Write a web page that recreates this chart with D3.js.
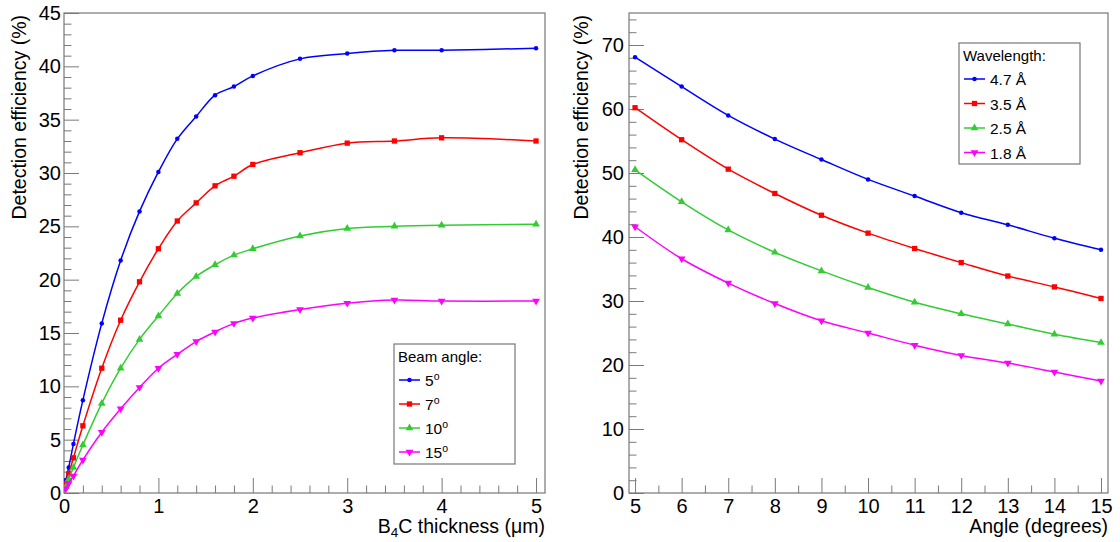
<!DOCTYPE html>
<html>
<head>
<meta charset="utf-8">
<script src="https://cdn.jsdelivr.net/npm/d3@7"></script>
<style>
  body { margin: 0; background: #fff; }
  svg { display: block; font-family: "Liberation Sans", Arial, Helvetica, sans-serif; }
  .tick text { font-size: 20px; fill: #000; }
  .tick line { stroke: #7a7a7a; }
</style>
</head>
<body>
<svg id="chart" width="1120" height="542"></svg>
<script>
// left panel: efficiency vs B4C thickness for several beam angles
const thickness = [0.02, 0.05, 0.1, 0.2, 0.4, 0.6, 0.8, 1.0, 1.2, 1.4, 1.6, 1.8, 2.0, 2.5, 3, 3.5, 4, 5]
const eff5deg  = [1.2, 2.4, 4.6, 8.7, 15.9, 21.8, 26.4, 30.1, 33.2, 35.3, 37.3, 38.1, 39.1, 40.7, 41.2, 41.5, 41.5, 41.7]
const eff7deg  = [0.9, 1.8, 3.3, 6.3, 11.7, 16.2, 19.8, 22.9, 25.5, 27.2, 28.8, 29.7, 30.8, 31.9, 32.8, 33.0, 33.3, 33.0]
const eff10deg = [0.6, 1.3, 2.4, 4.5, 8.4, 11.7, 14.4, 16.6, 18.7, 20.3, 21.4, 22.3, 22.9, 24.1, 24.8, 25.0, 25.1, 25.2]
const eff15deg = [0.4, 0.9, 1.6, 3.1, 5.7, 7.9, 9.9, 11.7, 13.0, 14.2, 15.1, 15.9, 16.4, 17.2, 17.8, 18.1, 18.0, 18.0]
const angleLabels = ["5", "7", "10", "15"]

// right panel: efficiency vs angle for several wavelengths
const angles = [5, 6, 7, 8, 9, 10, 11, 12, 13, 14, 15]
const eff47 = [68.1, 63.5, 59.0, 55.3, 52.1, 49.0, 46.4, 43.8, 41.9, 39.8, 38.0]
const eff35 = [60.2, 55.2, 50.6, 46.8, 43.4, 40.6, 38.2, 36.0, 33.9, 32.2, 30.4]
const eff25 = [50.5, 45.5, 41.1, 37.6, 34.7, 32.1, 29.8, 28.0, 26.4, 24.8, 23.5]
const eff18 = [41.6, 36.6, 32.8, 29.6, 26.9, 25.0, 23.1, 21.5, 20.3, 18.9, 17.5]
const wavelengthLabels = ["4.7 Å", "3.5 Å", "2.5 Å", "1.8 Å"]

// tick labels
const leftXTicks = [0, 1, 2, 3, 4, 5]
const leftYTicks = [0, 5, 10, 15, 20, 25, 30, 35, 40, 45]
const rightXTicks = [5, 6, 7, 8, 9, 10, 11, 12, 13, 14, 15]
const rightYTicks = [0, 10, 20, 30, 40, 50, 60, 70]

const colors = ["#0000ff", "#ff0000", "#33cc33", "#ff00ff"]
const symbols = [d3.symbolCircle, d3.symbolSquare, d3.symbolTriangle, d3.symbolTriangle]
const symbolSizes = [16, 28, 26, 26]
const frameColor = "#777"
const titleSize = 19.5

const svg = d3.select("#chart")

const drawPanel = (p) => {
    const x = d3.scaleLinear().domain(p.xDomain).range([p.left, p.right])
    const y = d3.scaleLinear().domain(p.yDomain).range([p.bottom, p.top])
    const g = svg.append("g")

    const clipId = "clip-" + p.id
    g.append("clipPath").attr("id", clipId)
        .append("rect")
        .attr("x", p.left).attr("y", p.top)
        .attr("width", p.right - p.left).attr("height", p.bottom - p.top)

    // minor ticks
    g.append("g")
        .attr("transform", `translate(0,${p.bottom})`)
        .call(d3.axisBottom(x).tickValues(p.xMinor).tickSize(-7.5).tickFormat(""))
        .call(a => a.select(".domain").remove())
    g.append("g")
        .attr("transform", `translate(${p.left},0)`)
        .call(d3.axisLeft(y).tickValues(p.yMinor).tickSize(-7.5).tickFormat(""))
        .call(a => a.select(".domain").remove())

    // major ticks + labels
    g.append("g")
        .attr("transform", `translate(0,${p.bottom})`)
        .call(d3.axisBottom(x).tickValues(p.xTicks).tickSize(-15).tickPadding(6).tickFormat(d3.format("d")))
        .call(a => a.select(".domain").remove())
    g.append("g")
        .attr("transform", `translate(${p.left},0)`)
        .call(d3.axisLeft(y).tickValues(p.yTicks).tickSize(-15).tickPadding(p.yPad).tickFormat(d3.format("d")))
        .call(a => a.select(".domain").remove())

    g.selectAll(".tick line").attr("stroke", frameColor)

    // frame
    g.append("rect")
        .attr("x", p.left).attr("y", p.top)
        .attr("width", p.right - p.left).attr("height", p.bottom - p.top)
        .attr("fill", "none").attr("stroke", frameColor).attr("stroke-width", 1.2)

    // axis titles
    const xt = g.append("text")
        .attr("x", p.right).attr("y", 533)
        .attr("text-anchor", "end")
        .attr("font-size", titleSize)
    p.xTitle(xt)

    g.append("text")
        .attr("transform", `translate(${p.yTitleX},${p.top + 2}) rotate(-90)`)
        .attr("text-anchor", "end")
        .attr("font-size", titleSize)
        .text("Detection efficiency (%)")

    // curves and markers
    const line = d3.line()
        .x(d => x(d[0]))
        .y(d => y(d[1]))
        .curve(d3.curveCatmullRom.alpha(0.5))

    const plot = g.append("g").attr("clip-path", `url(#${clipId})`)
    p.series.forEach((vals, i) => {
        const pts = p.xs.map((xv, j) => [xv, vals[j]])
        plot.append("path")
            .datum(pts)
            .attr("fill", "none")
            .attr("stroke", colors[i])
            .attr("stroke-width", 1.5)
            .attr("d", line)
        plot.selectAll(null)
            .data(pts)
            .join("path")
            .attr("transform", d => `translate(${x(d[0])},${y(d[1])})` + (i === 3 ? " rotate(180)" : ""))
            .attr("d", d3.symbol().type(symbols[i]).size(symbolSizes[i]))
            .attr("fill", colors[i])
    })

    // legend
    const L = p.legend
    const lg = g.append("g")
    lg.append("rect")
        .attr("x", L.x).attr("y", L.y)
        .attr("width", L.w).attr("height", L.h)
        .attr("fill", "#fff").attr("stroke", frameColor).attr("stroke-width", 1.2)
    lg.append("text")
        .attr("x", L.x + 4).attr("y", L.y + 17.5)
        .attr("font-size", 15)
        .text(L.title)
    L.labels.forEach((lab, i) => {
        const cy = L.y + L.firstRow + i * L.rowStep
        lg.append("line")
            .attr("x1", L.x + 5).attr("x2", L.x + 26)
            .attr("y1", cy).attr("y2", cy)
            .attr("stroke", colors[i]).attr("stroke-width", 1.5)
        lg.append("path")
            .attr("transform", `translate(${L.x + 15.5},${cy})` + (i === 3 ? " rotate(180)" : ""))
            .attr("d", d3.symbol().type(symbols[i]).size(symbolSizes[i]))
            .attr("fill", colors[i])
        const t = lg.append("text")
            .attr("x", L.x + 31).attr("y", cy + 6)
            .attr("font-size", 15.5)
        L.writeLabel(t, lab)
    })
}

drawPanel({
    id: "left",
    left: 64, right: 545, top: 13, bottom: 493,
    xDomain: [0, 5.095], yDomain: [0, 45],
    xTicks: leftXTicks, yTicks: leftYTicks,
    xMinor: d3.range(0, 5.1, 0.2).filter(v => Math.abs(v - Math.round(v)) > 0.01),
    yMinor: d3.range(0, 46, 1).filter(v => v % 5 !== 0),
    yPad: 3,
    yTitleX: 26,
    xs: thickness,
    series: [eff5deg, eff7deg, eff10deg, eff15deg],
    xTitle: t => {
        t.append("tspan").text("B")
        t.append("tspan").attr("font-size", 13.5).attr("dy", 4).text("4")
        t.append("tspan").attr("dy", -4).text("C thickness (μm)")
    },
    legend: {
        x: 394, y: 344, w: 121, h: 120,
        title: "Beam angle:",
        firstRow: 36, rowStep: 24,
        labels: angleLabels,
        writeLabel: (t, lab) => {
            t.append("tspan").text(lab)
            t.append("tspan").attr("font-size", 10.5).attr("dy", -6.5).text("o")
        }
    }
})

drawPanel({
    id: "right",
    left: 629, right: 1108, top: 13, bottom: 493,
    xDomain: [4.87, 15.15], yDomain: [0, 75],
    xTicks: rightXTicks, yTicks: rightYTicks,
    xMinor: d3.range(5.5, 15, 1),
    yMinor: d3.range(0, 76, 2).filter(v => v % 10 !== 0),
    yPad: 5,
    yTitleX: 588,
    xs: angles,
    series: [eff47, eff35, eff25, eff18],
    xTitle: t => t.text("Angle (degrees)"),
    legend: {
        x: 959, y: 43, w: 121, h: 121,
        title: "Wavelength:",
        firstRow: 36, rowStep: 24.5,
        labels: wavelengthLabels,
        writeLabel: (t, lab) => t.text(lab)
    }
})
</script>
</body>
</html>
